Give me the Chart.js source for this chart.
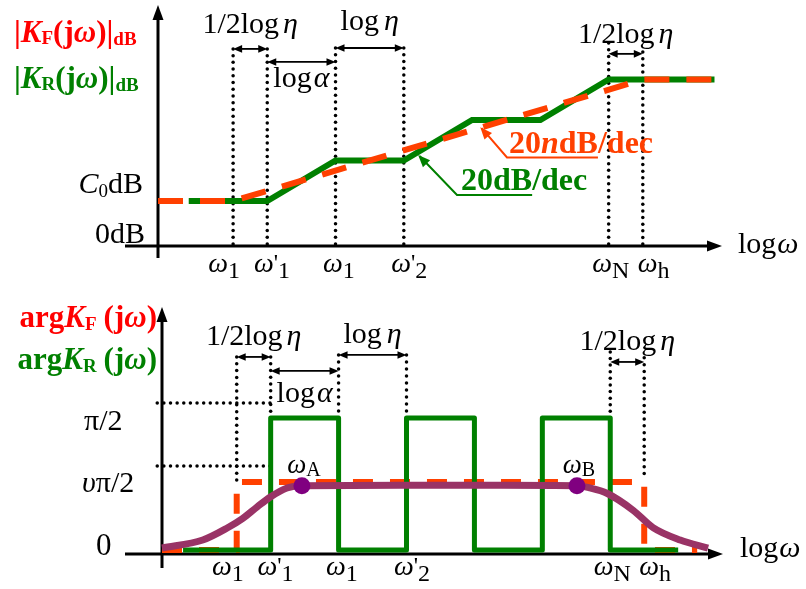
<!DOCTYPE html>
<html><head><meta charset="utf-8">
<script src="https://cdn.jsdelivr.net/npm/chart.js@4"></script>
<style>
html,body{margin:0;padding:0;background:#fff;}
#wrap{position:relative;width:806px;height:589px;overflow:hidden;background:#fff;}
#c1{position:absolute;left:0;top:0;}
#c2{position:absolute;left:0;top:295px;}
</style></head><body>
<div id="wrap">
<canvas id="c1" width="806" height="295"></canvas>
<canvas id="c2" width="806" height="294"></canvas>
</div>
<script>
// ---------- DATA (x in log ω units) ----------
const tickX      = [0.97, 1.67, 2.65, 3.68, 6.63, 7.26];          // label centres
const tickMain   = ['ω', 'ω', 'ω', 'ω', 'ω', 'ω'];
const tickPrime  = ['', "'", '', "'", '', ''];
const tickSub    = ['1', '1', '1', '2', 'N', 'h'];

// magnitude |K|dB (units: C0 level = 1)
const magFX = [0, 1.1, 7.1, 8.15];
const magFY = [1, 1, 3.7, 3.7];
const magRX = [0.45, 1.6, 2.6, 3.6, 4.6, 5.6, 6.6, 8.15];
const magRY = [1, 1, 1.9, 1.9, 2.8, 2.8, 3.7, 3.7];

// phase arg K (units: π/2 = 1)
const phFX = [0, 1.1, 1.1, 7.1, 7.1, 7.88];
const phFY = [0, 0, 0.515, 0.515, 0, 0];
const phRX = [0.31, 1.6, 1.6, 2.6, 2.6, 3.6, 3.6, 4.6, 4.6, 5.6, 5.6, 6.6, 6.6, 7.6];
const phRY = [0, 0, 1, 1, 0, 0, 1, 1, 0, 0, 1, 1, 0, 0];
const phCX = [0, 0.6, 0.96, 1.19, 1.4, 1.59, 1.84, 2.06, 3.5, 5.0, 6.11, 6.3, 6.55, 6.94, 7.23, 7.63, 8.04];
const phCY = [0.015, 0.076, 0.167, 0.24, 0.326, 0.40, 0.47, 0.487, 0.49, 0.49, 0.487, 0.47, 0.43, 0.30, 0.17, 0.076, 0.015];
const markX = [2.06, 6.11];
const markY = [0.487, 0.487];
const markSub = ['A', 'B'];

// ---------- helpers ----------
const FF = "'Liberation Serif','Times New Roman',serif";
const RED = '#ff0000', ORANGE = '#ff4000', GREEN = '#008000', PURPLE = '#993366', DOT = '#800080';
const pts = (xs, ys) => xs.map((v, i) => ({x: v, y: ys[i]}));
function font(size, style) { return (style || '') + ' ' + size + 'px ' + FF; }
// parts: [text, size, style, dy, gapAfter, color]
function rich(ctx, x, y, parts, align, color) {
  ctx.save();
  ctx.textBaseline = 'alphabetic'; ctx.textAlign = 'left';
  let w = 0;
  const ms = parts.map(p => { ctx.font = font(p[1], p[2]); const m = ctx.measureText(p[0]).width + (p[4] || 0); w += m; return m; });
  let cx = align === 'center' ? x - w / 2 : align === 'right' ? x - w : x;
  const spans = [];
  parts.forEach((p, i) => {
    ctx.font = font(p[1], p[2]); ctx.fillStyle = p[5] || color;
    ctx.fillText(p[0], cx, y + (p[3] || 0));
    spans.push([cx, cx + ms[i] - (p[4] || 0)]); cx += ms[i];
  });
  ctx.restore();
  return spans;
}
function dotted(ctx, x1, y1, x2, y2) {
  const len = Math.hypot(x2 - x1, y2 - y1), n = Math.max(1, Math.round(len / 6.7));
  ctx.save(); ctx.fillStyle = '#000';
  for (let i = 0; i <= n; i++) {
    const t = i / n;
    ctx.beginPath(); ctx.arc(x1 + (x2 - x1) * t, y1 + (y2 - y1) * t, 1.75, 0, Math.PI * 2); ctx.fill();
  }
  ctx.restore();
}
function head(ctx, fx, fy, tx, ty, len, hw, color) {
  const ang = Math.atan2(ty - fy, tx - fx);
  ctx.save(); ctx.fillStyle = color; ctx.translate(tx, ty); ctx.rotate(ang);
  ctx.beginPath(); ctx.moveTo(0, 0); ctx.lineTo(-len, -hw); ctx.lineTo(-len, hw); ctx.closePath(); ctx.fill(); ctx.restore();
}
function dblArrow(ctx, x1, x2, y) {
  ctx.save(); ctx.strokeStyle = '#000'; ctx.lineWidth = 1.8;
  ctx.beginPath(); ctx.moveTo(x1 + 5, y); ctx.lineTo(x2 - 5, y); ctx.stroke(); ctx.restore();
  head(ctx, x2 - 10, y, x1, y, 9, 3.8, '#000');
  head(ctx, x1 + 10, y, x2, y, 9, 3.8, '#000');
}
function axes(ctx, ax, yTop, yBot, ay, xL, xR) {
  ctx.save(); ctx.strokeStyle = '#000'; ctx.lineWidth = 3;
  ctx.beginPath(); ctx.moveTo(ax, yBot); ctx.lineTo(ax, yTop + 10); ctx.stroke();
  ctx.beginPath(); ctx.moveTo(xL, ay); ctx.lineTo(xR - 10, ay); ctx.stroke(); ctx.restore();
  head(ctx, ax, yTop + 20, ax, yTop, 15, 5.5, '#000');
  head(ctx, xR - 20, ay, xR, ay, 15, 5.5, '#000');
}
const halfEta = [['1/2log', 30, '', 0, 4], ['η', 30, 'italic']];
const logEta  = [['log', 30, '', 0, 5], ['η', 30, 'italic']];
const logAlpha = [['log', 30, '', 0, 2], ['α', 30, 'italic']];
const logW = [['log', 30, '', 0, 1], ['ω', 30, 'italic']];
function tickLabels(ctx, x, base) {
  tickX.forEach((v, i) => {
    const parts = [[tickMain[i], 28, 'italic']];
    if (tickPrime[i]) parts.push([tickPrime[i], 24, '', -2]);
    parts.push([tickSub[i], 24, '', 6]);
    rich(ctx, x.getPixelForValue(v), base, parts, 'center', '#000');
  });
}

// ---------- top: magnitude ----------
const magDeco = {
  id: 'magDeco',
  beforeDatasetsDraw(chart) {
    const {ctx, chartArea: a, scales: {x, y}} = chart;
    axes(ctx, x.getPixelForValue(0), a.top, a.bottom + 12, a.bottom, a.left - 33, a.right);
    [[1.1, 4.38], [1.6, 4.38], [2.6, 4.4], [3.6, 4.4], [6.6, 4.51], [7.1, 4.31]].forEach(g =>
      dotted(ctx, x.getPixelForValue(g[0]), y.getPixelForValue(0) - 2, x.getPixelForValue(g[0]), y.getPixelForValue(g[1])));
  },
  afterDatasetsDraw(chart) {
    const {ctx, chartArea: a, scales: {x, y}} = chart;
    const X = v => x.getPixelForValue(v), Y = v => y.getPixelForValue(v);
    [[1.1, 1.6, 4.38, halfEta, -16], [2.6, 3.6, 4.4, logEta, -18], [1.6, 2.6, 4.09, logAlpha, 25], [6.6, 7.1, 4.27, halfEta, -11]]
      .forEach(r => { dblArrow(ctx, X(r[0]), X(r[1]), Y(r[2])); rich(ctx, (X(r[0]) + X(r[1])) / 2, Y(r[2]) + r[4], r[3], 'center', '#000'); });
    tickLabels(ctx, x, a.bottom + 26);
    rich(ctx, 143, Y(1) - 8, [['C', 30, 'italic'], ['0', 19, '', 4], ['dB', 30]], 'right', '#000');
    rich(ctx, 145, a.bottom - 3, [['0dB', 30]], 'right', '#000');
    rich(ctx, a.right + 16, a.bottom + 7, logW, 'left', '#000');
    const tl = c => [['|', 31, 'bold'], ['K', 31, 'bold italic'], [c, 19, 'bold', 2], ['(j', 31, 'bold'], ['ω', 31, 'bold italic'], [')|', 31, 'bold'], ['dB', 19, 'bold', 3]];
    rich(ctx, 14, 42, tl('F'), 'left', RED);
    rich(ctx, 14, 88, tl('R'), 'left', GREEN);
    // 20n dB/dec (red)
    let s = rich(ctx, 509, 153, [['20', 32, 'bold'], ['n', 32, 'bold italic'], ['dB', 32, 'bold'], ['/dec', 32, 'bold']], 'left', ORANGE);
    ctx.save(); ctx.strokeStyle = ORANGE; ctx.lineWidth = 2;
    ctx.beginPath(); ctx.moveTo(s[2][1], 157.5); ctx.lineTo(507, 157.5); ctx.lineTo(X(4.74), Y(2.62)); ctx.stroke(); ctx.restore();
    head(ctx, 507, 157.5, X(4.72), Y(2.64), 12, 5, ORANGE);
    // 20 dB/dec (green)
    s = rich(ctx, 461, 190, [['20dB', 32, 'bold'], ['/dec', 32, 'bold']], 'left', GREEN);
    ctx.save(); ctx.strokeStyle = GREEN; ctx.lineWidth = 2;
    ctx.beginPath(); ctx.moveTo(s[0][1], 195); ctx.lineTo(457, 195); ctx.lineTo(X(3.83), Y(2.0)); ctx.stroke(); ctx.restore();
    head(ctx, 457, 195, X(3.81), Y(2.02), 12, 5, GREEN);
  }
};

new Chart(document.getElementById('c1'), {
  type: 'line',
  data: { datasets: [
    { data: pts(magFX, magFY), borderColor: ORANGE, borderWidth: 6, borderDash: [25, 17], borderCapStyle: 'butt', pointRadius: 0, tension: 0, clip: false },
    { data: pts(magRX, magRY), borderColor: GREEN, borderWidth: 6, borderJoinStyle: 'miter', pointRadius: 0, tension: 0, clip: false }
  ]},
  options: {
    responsive: false, animation: false, devicePixelRatio: 1,
    layout: { padding: { left: 158, right: 84, top: 5, bottom: 49 } },
    plugins: { legend: { display: false }, tooltip: { enabled: false } },
    scales: {
      x: { type: 'linear', display: false, min: 0, max: 8.26 },
      y: { type: 'linear', display: false, min: 0, max: 5.356 }
    }
  },
  plugins: [magDeco]
});

// ---------- bottom: phase ----------
const OY = 295;
const phDeco = {
  id: 'phDeco',
  beforeDatasetsDraw(chart) {
    const {ctx, chartArea: a, scales: {x, y}} = chart;
    const X = v => x.getPixelForValue(v), Y = v => y.getPixelForValue(v);
    axes(ctx, X(0), a.top, a.bottom + 14, a.bottom, a.left - 37, a.right);
    [[1.1, 1.462, 0.53], [1.6, 1.462, 1.0], [2.6, 1.477, 1.0], [3.6, 1.477, 1.0], [6.6, 1.5, 1.0], [7.1, 1.455, 0.58]]
      .forEach(g => dotted(ctx, X(g[0]), Y(g[1]), X(g[0]), Y(g[2])));
    [[1.114, -0.07, 1.59], [0.636, -0.07, 1.59]].forEach(g => dotted(ctx, X(g[1]), Y(g[0]), X(g[2]), Y(g[0])));
  },
  afterDatasetsDraw(chart) {
    const {ctx, chartArea: a, scales: {x, y}} = chart;
    const X = v => x.getPixelForValue(v), Y = v => y.getPixelForValue(v);
    [[1.1, 1.6, 1.462, halfEta, -12], [2.6, 3.6, 1.477, logEta, -12], [1.6, 2.6, 1.356, logAlpha, 31], [6.6, 7.1, 1.424, halfEta, -12]]
      .forEach(r => { dblArrow(ctx, X(r[0]), X(r[1]), Y(r[2])); rich(ctx, (X(r[0]) + X(r[1])) / 2, Y(r[2]) + r[4], r[3], 'center', '#000'); });
    tickLabels(ctx, x, a.bottom + 21);
    markX.forEach((v, i) => rich(ctx, X(v) + 2, Y(markY[i]) - 13, [['ω', 27, 'italic'], [markSub[i], 20, '', 3]], 'center', '#000'));
    rich(ctx, 84, Y(1) + 12, [['π/2', 30]], 'left', '#000');
    rich(ctx, 82, Y(0.515) + 10, [['υ', 30, 'italic'], ['π/2', 30]], 'left', '#000');
    rich(ctx, 96, Y(0) + 5, [['0', 31]], 'left', '#000');
    rich(ctx, a.right + 17, a.bottom + 3, logW, 'left', '#000');
    const tl = c => [['arg', 31, 'bold'], ['K', 31, 'bold italic'], [c, 19, 'bold', 3, 7], ['(j', 31, 'bold'], ['ω', 31, 'bold italic'], [')', 31, 'bold']];
    rich(ctx, 157, 327 - OY, tl('F'), 'right', RED);
    rich(ctx, 157, 369 - OY, tl('R'), 'right', GREEN);
  }
};

new Chart(document.getElementById('c2'), {
  type: 'line',
  data: { datasets: [
    { type: 'scatter', data: pts(markX, markY), backgroundColor: DOT, borderWidth: 0, pointRadius: 8.5, showLine: false, clip: false },
    { data: pts(phCX, phCY), borderColor: PURPLE, borderWidth: 7, cubicInterpolationMode: 'monotone', pointRadius: 0, clip: false },
    { data: pts(phRX, phRY), borderColor: GREEN, borderWidth: 5, borderJoinStyle: 'round', pointRadius: 0, tension: 0, clip: false },
    { data: pts(phFX, phFY), borderColor: ORANGE, borderWidth: 6, borderDash: [20, 17], pointRadius: 0, tension: 0, clip: false }
  ]},
  options: {
    responsive: false, animation: false, devicePixelRatio: 1,
    layout: { padding: { left: 162, right: 83, top: 12, bottom: 35 } },
    plugins: { legend: { display: false }, tooltip: { enabled: false } },
    scales: {
      x: { type: 'linear', display: false, min: 0, max: 8.26 },
      y: { type: 'linear', display: false, min: -0.03, max: 1.84 }
    }
  },
  plugins: [phDeco]
});
</script>
</body></html>
